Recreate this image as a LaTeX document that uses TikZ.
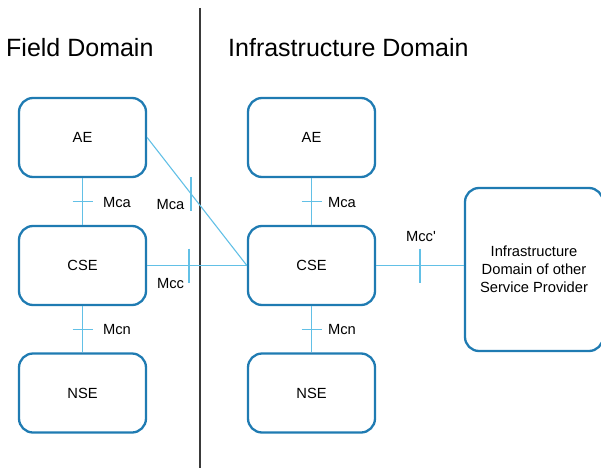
\documentclass[tikz,border=0pt]{standalone}
\usepackage{fontspec}
\setmainfont{Liberation Sans}
\usetikzlibrary{calc}
\definecolor{boxblue}{HTML}{1F7BB2}
\definecolor{linkblue}{HTML}{62C0E6}
\definecolor{divider}{HTML}{3A3A3A}
\tikzset{
  entity/.style={draw=boxblue, line width=2.3pt, rounded corners=14pt,
    minimum width=127pt, minimum height=79pt, inner sep=0pt,
    font=\fontsize{14.7}{18}\selectfont, align=center},
  provider/.style={entity, minimum width=138pt, minimum height=163pt},
  link/.style={draw=linkblue, line width=1.1pt},
  refpoint/.style={font=\fontsize{14.7}{18}\selectfont, inner sep=0pt},
  heading/.style={font=\fontsize{25}{30}\selectfont, inner sep=0pt, anchor=base west}
}
\begin{document}
\begin{tikzpicture}[x=1pt, y=-1pt]
  \useasboundingbox (0,0) rectangle (601,468);

  % domain separator and headings
  \coordinate (divtop) at (200,8);
  \coordinate (divbot) at (200,468);
  \draw[divider, line width=1.2pt] (divtop) -- (divbot);
  \node[heading] (fieldtitle) at (6,57) {Field Domain};
  \node[heading] (infratitle) at (228,57) {Infrastructure Domain};

  % field domain entities
  \node[entity] (fae)  at (82.5,137.5) {AE};
  \node[entity] (fcse) at (82.5,265.5) {CSE};
  \node[entity] (fnse) at (82.5,393) {NSE};

  % infrastructure domain entities
  \node[entity] (iae)  at (311.5,137.5) {AE};
  \node[entity] (icse) at (311.5,265.5) {CSE};
  \node[entity] (inse) at (311.5,393) {NSE};

  % other service provider
  \node[provider] (osp) at (534,269.5) {Infrastructure\\Domain of other\\Service Provider};

  % reference point links
  \draw[link] (fae) -- (fcse);
  \draw[link] (fcse) -- (fnse);
  \draw[link] (iae) -- (icse);
  \draw[link] (icse) -- (inse);
  \draw[link] (fae.east) -- (icse.west);
  \draw[link] (fcse.east) -- (icse.west);
  \coordinate (ospin) at (osp.west |- icse.east);
  \draw[link] (icse.east) -- (ospin);

  % crossing marks on each link
  \coordinate (t1) at ($(fae.south)!0.5!(fcse.north)$);
  \coordinate (t2) at ($(fcse.south)!0.5!(fnse.north)$);
  \coordinate (t3) at ($(iae.south)!0.5!(icse.north)$);
  \coordinate (t4) at ($(icse.south)!0.5!(inse.north)$);
  \coordinate (t5) at ($(fae.east)!0.44!(icse.west)$);
  \coordinate (t6) at ($(fcse.east)!0.42!(icse.west)$);
  \coordinate (t7) at ($(icse.east)!0.5!(ospin)$);
  \foreach \t in {t1,t2,t3,t4} \draw[link] ($(\t)+(-10,0)$) -- ($(\t)+(10,0)$);
  \foreach \t in {t5,t6,t7} \draw[link] ($(\t)+(0,-17)$) -- ($(\t)+(0,17)$);

  % reference point labels
  \node[refpoint] (lmca1) at (117,203) {Mca};
  \node[refpoint] (lmcn1) at (117,330) {Mcn};
  \node[refpoint] (lmca2) at (342,203) {Mca};
  \node[refpoint] (lmcn2) at (342,330) {Mcn};
  \node[refpoint] (lmca3) at (170.5,205) {Mca};
  \node[refpoint] (lmcc)  at (170.5,284) {Mcc};
  \node[refpoint] (lmccp) at (421,237) {Mcc\textquotesingle};
\end{tikzpicture}
\end{document}
